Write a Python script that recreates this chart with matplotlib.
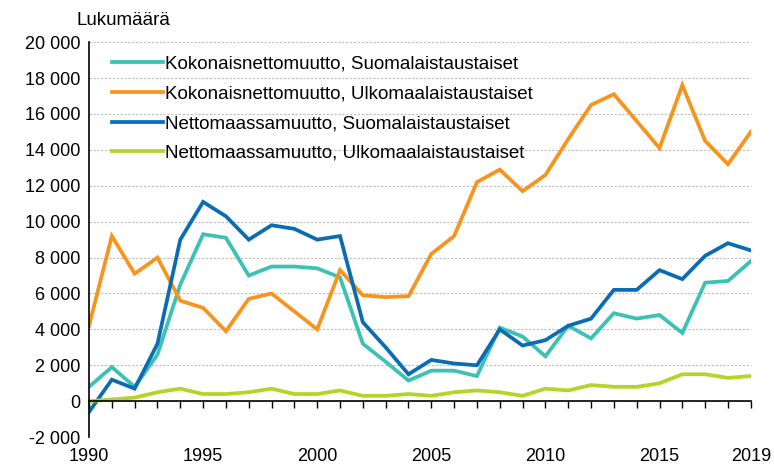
import numpy as np
import matplotlib.pyplot as plt
from matplotlib.ticker import FuncFormatter, MultipleLocator

years = list(range(1990, 2020))

kok_suomi = [800, 1900, 800, 2600, 6500, 9300, 9100, 7000, 7500, 7500,
             7400, 6900, 3200, 2200, 1150, 1700, 1700, 1400, 4100, 3600,
             2500, 4200, 3500, 4900, 4600, 4800, 3800, 6600, 6700, 7800]
kok_ulko = [4200, 9200, 7100, 8000, 5600, 5200, 3900, 5700, 6000, 5000,
            4000, 7300, 5900, 5800, 5850, 8200, 9200, 12200, 12900, 11700,
            12600, 14600, 16500, 17100, 15600, 14100, 17600, 14500, 13200, 15000]
netto_suomi = [-600, 1200, 700, 3200, 9000, 11100, 10300, 9000, 9800, 9600,
               9000, 9200, 4400, 3000, 1500, 2300, 2100, 2000, 4000, 3100,
               3400, 4200, 4600, 6200, 6200, 7300, 6800, 8100, 8800, 8400]
netto_ulko = [0, 100, 200, 500, 700, 400, 400, 500, 700, 400,
              400, 600, 300, 300, 400, 300, 500, 600, 500, 300,
              700, 600, 900, 800, 800, 1000, 1500, 1500, 1300, 1400]

labels = ["Kokonaisnettomuutto, Suomalaistaustaiset",
          "Kokonaisnettomuutto, Ulkomaalaistaustaiset",
          "Nettomaassamuutto, Suomalaistaustaiset",
          "Nettomaassamuutto, Ulkomaalaistaustaiset"]
colors = ["#3cc1b5", "#f7941d", "#0a6db3", "#b4d42a"]
year_labels = [1990, 1995, 2000, 2005, 2010, 2015, 2019]

plt.rcParams['font.family'] = ['Liberation Sans', 'DejaVu Sans']

fig = plt.figure(figsize=(7.74, 4.68), dpi=100)
ax = fig.add_axes([0.115, 0.066, 0.855, 0.844])

series = [kok_suomi, kok_ulko, netto_suomi, netto_ulko]
for vals, lab, c in zip(series, labels, colors):
    ax.plot(years, vals, color=c, lw=2.7, label=lab, solid_joinstyle='miter')

ax.set_xlim(1990, 2019)
ax.set_ylim(-2000, 20000)
ax.yaxis.set_major_locator(MultipleLocator(2000))
ax.yaxis.set_major_formatter(FuncFormatter(lambda v, p: f"{int(v):,}".replace(",", " ")))
ax.grid(axis='y', color='#bbbbbb', linestyle=(0, (2, 1.5)), lw=0.8)
ax.set_axisbelow(True)

for s in ['top', 'right']:
    ax.spines[s].set_visible(False)
ax.spines['left'].set_linewidth(1.2)
ax.spines['bottom'].set_position(('data', 0))
ax.spines['bottom'].set_linewidth(1.2)
ax.set_xticks(years)
ax.tick_params(axis='x', direction='out', length=5, width=1, labelbottom=False)
ax.tick_params(axis='y', length=0, labelsize=13, pad=6)

sec = ax.secondary_xaxis(0)
sec.set_xticks(year_labels)
sec.tick_params(length=0, labelsize=13, pad=8)
sec.spines['bottom'].set_visible(False)

fig.text(0.099, 0.957, "Lukumäärä", fontsize=13.5, ha='left', va='center')

ax.legend(loc='upper left', bbox_to_anchor=(0.015, 1.0), frameon=False,
          fontsize=13.5, handlelength=2.7, labelspacing=0.68, handletextpad=0.15,
          borderaxespad=0.3)

fig.savefig("out.png", dpi=100)
